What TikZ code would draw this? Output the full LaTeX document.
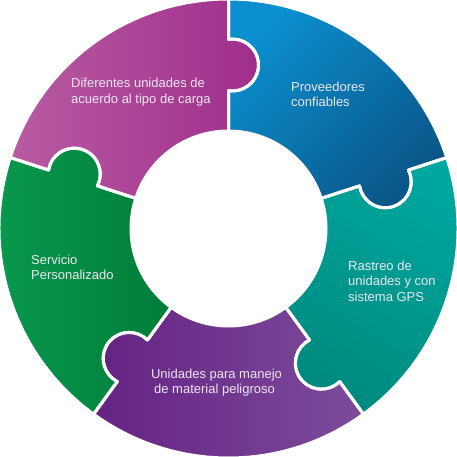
\documentclass[tikz,border=0pt]{standalone}
\usepackage{fontspec}
\setmainfont{Liberation Sans}
\definecolor{pinkL}{HTML}{B85BA2}
\definecolor{pinkR}{HTML}{A02E8B}
\definecolor{pinkD}{HTML}{841C72}
\definecolor{blueL}{HTML}{0B8FCF}
\definecolor{blueR}{HTML}{0A5688}
\definecolor{blueD}{HTML}{063C63}
\definecolor{tealT}{HTML}{00A79F}
\definecolor{tealB}{HTML}{008A7F}
\definecolor{tealD}{HTML}{00665D}
\definecolor{purpL}{HTML}{652283}
\definecolor{purpR}{HTML}{7D4C9C}
\definecolor{purpD}{HTML}{4A1563}
\definecolor{greenL}{HTML}{0A9A50}
\definecolor{greenR}{HTML}{007D38}
\definecolor{greenD}{HTML}{005C28}
\definecolor{txt}{HTML}{ECE6F0}
\def\Ro{229.5}\def\Ri{97.5}\def\Rk{163.5}\def\Kr{26}\def\Kh{25.69}\def\Ka{8.85}
\newcommand\piecepath[1]{({#1+72}:\Ro) arc[start angle={#1+72}, end angle={#1}, radius=\Ro]
 -- ({#1}:{\Rk+\Kh})
 arc[start angle={#1+\Ka}, end angle={#1-180-\Ka}, radius=\Kr]
 -- ({#1}:\Ri)
 arc[start angle={#1}, end angle={#1+72}, radius=\Ri]
 -- ({#1+72}:{\Rk-\Kh})
 arc[start angle={#1+72+180-\Ka}, end angle={#1+72+360+\Ka}, radius=\Kr]
 -- cycle}
\tikzset{lbl/.style={anchor=base west, inner sep=0pt, text=txt, font=\fontsize{13}{15.5}\selectfont}}
\begin{document}
\begin{tikzpicture}[x=1pt,y=1pt]
\useasboundingbox (0,0) rectangle (457,457);
\begin{scope}[shift={(228.5,228.5)}]
 % pink
 \fill[pinkD] \piecepath{90};
 \begin{scope}\clip \piecepath{90};
  \shade[left color=pinkL,right color=pinkR,yshift=1.5pt] \piecepath{90};
 \end{scope}
 % blue
 \fill[blueD] \piecepath{18};
 \begin{scope}\clip \piecepath{18};
  \shade[top color=blueL,bottom color=blueR,shading angle=45,yshift=1.5pt] \piecepath{18};
 \end{scope}
 % teal
 \fill[tealD] \piecepath{-54};
 \begin{scope}\clip \piecepath{-54};
  \shade[top color=tealT,bottom color=tealB,shading angle=-30,yshift=1.5pt] \piecepath{-54};
 \end{scope}
 % purple
 \fill[purpD] \piecepath{-126};
 \begin{scope}\clip \piecepath{-126};
  \shade[left color=purpL,right color=purpR,yshift=1.5pt] \piecepath{-126};
 \end{scope}
 % green
 \fill[greenD] \piecepath{162};
 \begin{scope}\clip \piecepath{162};
  \shade[left color=greenL,right color=greenR,yshift=1.5pt] \piecepath{162};
 \end{scope}
 % gaps
 \foreach \a in {90,18,-54,-126,162}
  \draw[white, line width=3pt, line join=round] \piecepath{\a};
\end{scope}
% labels
\node[lbl] (p1) at (71,369.5) {Diferentes unidades de};
\node[lbl] (p2) at (71,353.5) {acuerdo al tipo de carga};
\node[lbl] (b1) at (291,365.5) {Proveedores};
\node[lbl] (b2) at (291,350) {confiables};
\node[lbl] (t1) at (348,186.5) {Rastreo de};
\node[lbl] (t2) at (348,171) {unidades y con};
\node[lbl] (t3) at (348,155.5) {sistema GPS};
\node[lbl] (g1) at (31,192.5) {Servicio};
\node[lbl] (g2) at (31,177) {Personalizado};
\node[lbl,anchor=base] (u1) at (216.5,78.5) {Unidades para manejo};
\node[lbl,anchor=base] (u2) at (214.5,63) {de material peligroso};
\end{tikzpicture}
\end{document}
